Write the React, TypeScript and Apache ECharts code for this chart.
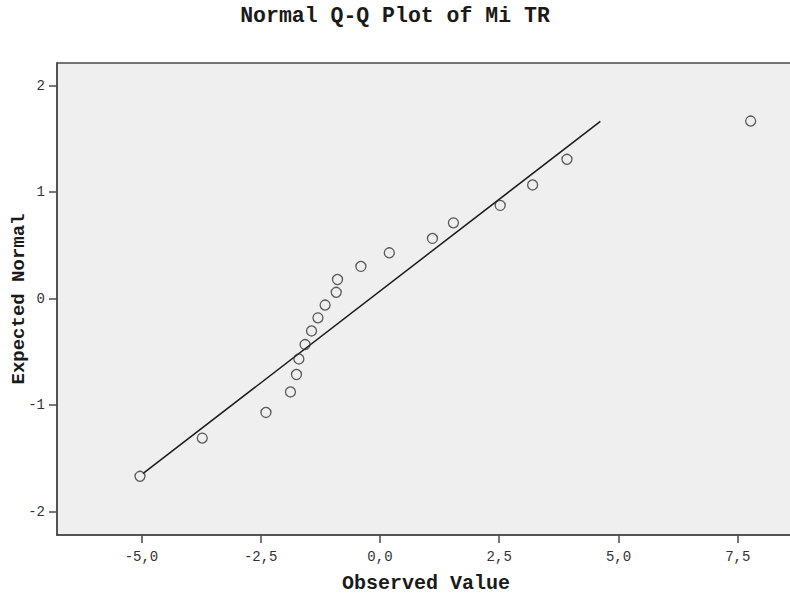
import React, { useEffect, useRef } from "react";
import * as echarts from "echarts";

const observedValues = [-5.03, -3.725, -2.39, -1.876, -1.75, -1.7, -1.57, -1.435, -1.3, -1.15, -0.917, -0.89, -0.4, 0.196, 1.1, 1.54, 2.52, 3.2, 3.92, 7.77];
const expectedNormal = [-1.668, -1.309, -1.068, -0.876, -0.712, -0.566, -0.431, -0.303, -0.18, -0.06, 0.06, 0.18, 0.303, 0.431, 0.566, 0.712, 0.876, 1.068, 1.309, 1.668];
const lineX = [-4.97, 4.62];
const lineY = [-1.643, 1.665];
const xTicks = [-5, -2.5, 0, 2.5, 5, 7.5];
const yTicks = [-2, -1, 0, 1, 2];

const FONT = "'Liberation Mono', 'Courier New', monospace";

export default function App() {
  const ref = useRef<HTMLDivElement>(null);
  useEffect(() => {
    if (!ref.current) return;
    const chart = echarts.init(ref.current, null, { renderer: "svg" });
    const points = observedValues.map((v, i) => [v, expectedNormal[i]]);
    const line = lineX.map((v, i) => [v, lineY[i]]);
    chart.setOption({
      animation: false,
      backgroundColor: "#ffffff",
      title: {
        text: "Normal Q-Q Plot of Mi TR",
        left: "center",
        top: 0,
        textStyle: { fontFamily: FONT, fontWeight: "bold", fontSize: 21.5, color: "#1a1a1a" },
      },
      grid: {
        left: 57,
        top: 63,
        right: -5,
        bottom: 68,
        containLabel: false,
        outerBoundsMode: "none",
        show: true,
        backgroundColor: "#efefef",
        borderColor: "#4a4a4a",
        borderWidth: 1.5,
      },
      xAxis: {
        type: "value",
        min: -6.77,
        max: 8.7,
        name: "Observed Value",
        nameLocation: "middle",
        nameGap: 38,
        nameMoveOverlap: false,
        nameTextStyle: { fontFamily: FONT, fontWeight: "bold", fontSize: 20, color: "#1a1a1a" },
        splitLine: { show: false },
        axisLine: { show: true, onZero: false, lineStyle: { color: "#4a4a4a", width: 1.5 } },
        axisTick: { show: true, inside: false, length: 8, customValues: xTicks, lineStyle: { color: "#4a4a4a", width: 1.5 } },
        axisLabel: {
          customValues: xTicks,
          margin: 15,
          fontFamily: FONT,
          fontSize: 14,
          color: "#333",
          formatter: (v: number) => v.toFixed(1).replace(".", ","),
        },
      },
      yAxis: {
        type: "value",
        min: -2.219,
        max: 2.213,
        name: "Expected Normal",
        nameLocation: "middle",
        nameGap: 29,
        nameMoveOverlap: false,
        nameTextStyle: { fontFamily: FONT, fontWeight: "bold", fontSize: 19, color: "#1a1a1a" },
        splitLine: { show: false },
        axisLine: { show: true, onZero: false, lineStyle: { color: "#4a4a4a", width: 1.5 } },
        axisTick: { show: true, inside: false, length: 8, customValues: yTicks, lineStyle: { color: "#4a4a4a", width: 1.5 } },
        axisLabel: {
          customValues: yTicks,
          margin: 12,
          fontFamily: FONT,
          fontSize: 14,
          color: "#333",
          formatter: (v: number) => String(v),
        },
      },
      series: [
        {
          type: "line",
          data: line,
          showSymbol: false,
          symbol: "none",
          lineStyle: { color: "#1a1a1a", width: 1.5 },
          silent: true,
          z: 2,
        },
        {
          type: "scatter",
          data: points,
          symbol: "circle",
          symbolSize: 10,
          itemStyle: { color: "rgba(0,0,0,0)", borderColor: "#333", borderWidth: 1.3 },
          z: 3,
        },
      ],
    });
    return () => chart.dispose();
  }, []);
  return (
    <div
      ref={ref}
      style={{ position: "absolute", left: 0, top: 0, width: 790, height: 603 }}
    />
  );
}
